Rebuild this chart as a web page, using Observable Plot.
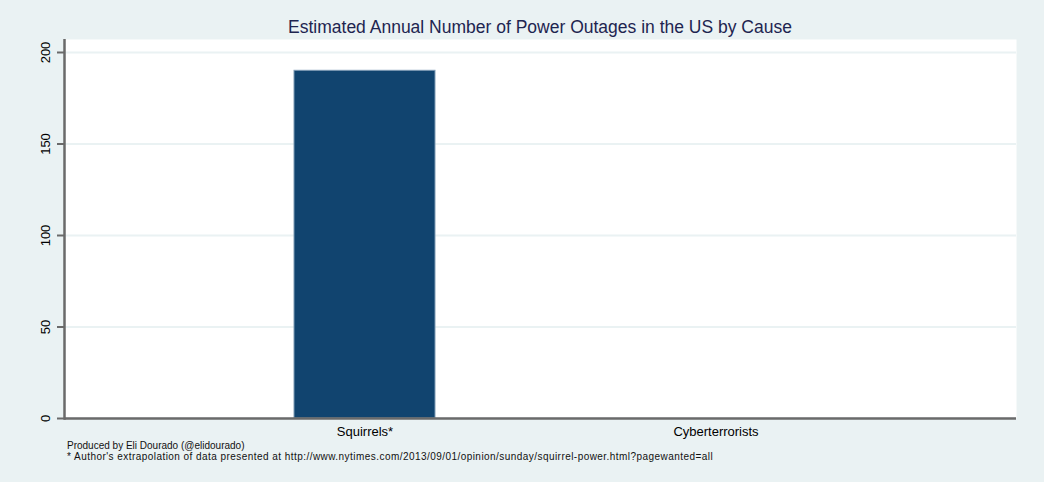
<!DOCTYPE html>
<html>
<head>
<meta charset="utf-8">
<script src="https://cdn.jsdelivr.net/npm/d3@7"></script>
<script src="https://cdn.jsdelivr.net/npm/@observablehq/plot@0.6"></script>
<style>
  html, body { margin: 0; padding: 0; background: #eaf2f3; width: 1044px; height: 482px; overflow: hidden; }
  #title { height: 39px; box-sizing: border-box; padding-top: 17px; padding-left: 36px; text-align: center; font-family: "Liberation Sans", Arial, sans-serif; font-size: 17.5px; line-height: 20px; color: #1e2550; }
  #chart svg { display: block; }
  #caption { margin-left: 67px; margin-top: -1px; font-family: "Liberation Sans", Arial, sans-serif; font-size: 10px; line-height: 10.5px; color: #111; }
  #caption .l2 { letter-spacing: 0.45px; }
</style>
</head>
<body>
<div id="title">Estimated Annual Number of Power Outages in the US by Cause</div>
<div id="chart"></div>
<div id="caption">Produced by Eli Dourado (@elidourado)<br><span class="l2">* Author's extrapolation of data presented at http://www.nytimes.com/2013/09/01/opinion/sunday/squirrel-power.html?pagewanted=all</span></div>
<script>
const causes = ["Squirrels*", "Cyberterrorists"];
const outages = [190, 0];
const yTicks = [0, 50, 100, 150, 200];

const data = causes.map((c, i) => ({cause: c, value: outages[i]}));

const plot = Plot.plot({
  width: 1044,
  height: 403,
  marginTop: 0,
  marginLeft: 64,
  marginRight: 28,
  marginBottom: 24,
  style: {background: "transparent", fontFamily: "Liberation Sans, Arial, sans-serif"},
  x: {domain: causes, paddingInner: 0.597, paddingOuter: 0.651, label: null},
  y: {domain: [0, 207.1], label: null},
  marks: [
    Plot.frame({fill: "white", stroke: null}),
    Plot.gridY(yTicks, {stroke: "#eaf2f3", strokeOpacity: 1, strokeWidth: 2}),
    Plot.barY(data, {x: "cause", y: "value", fill: "#11446f", stroke: "#7f9bb5", strokeWidth: 1}),
    Plot.ruleY([0], {stroke: "#6a6a6a", strokeWidth: 2.5}),
    Plot.frame({anchor: "left", stroke: "#6a6a6a", strokeWidth: 2.5}),
    Plot.axisY(yTicks, {tickSize: 7, tickPadding: 8, tickRotate: -90, fontSize: 13, stroke: "#6a6a6a", strokeWidth: 2, fill: "#000"}),
    Plot.axisX({tickSize: 0, tickPadding: 8, fontSize: 13, fill: "#000"})
  ]
});
document.getElementById("chart").appendChild(plot);
</script>
</body>
</html>
